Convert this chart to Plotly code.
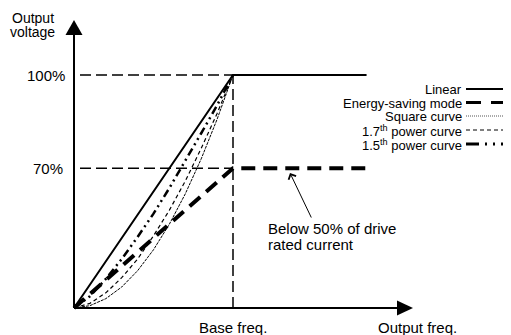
import plotly.graph_objects as go

# Values (x: 1.0 = base freq, y: 1.0 = 100% line)
freq = [0, 0.1, 0.2, 0.3, 0.4, 0.5, 0.6, 0.7, 0.8, 0.9, 1.0]
square_curve = [0, 0.01, 0.04, 0.09, 0.16, 0.25, 0.36, 0.49, 0.64, 0.81, 1.0]
power17_curve = [0, 0.02, 0.065, 0.13, 0.21, 0.31, 0.42, 0.545, 0.685, 0.835, 1.0]
power15_curve = [0, 0.05, 0.125, 0.21, 0.305, 0.405, 0.515, 0.63, 0.75, 0.87, 1.0]
linear_freq = [0, 1.0, 1.84]
linear_volt = [0, 1.0, 1.0]
energy_freq = [0, 0.25, 0.5, 0.75, 1.0, 1.84]
energy_volt = [0, 0.15, 0.3, 0.45, 0.6, 0.6]
level_y = [1.0, 0.6]
level_text = ["100%", "70%"]
base_freq = 1.0

legend_names = ["Linear", "Energy-saving mode", "Square curve",
                "1.7<sup>th</sup> power curve", "1.5<sup>th</sup> power curve"]

FONT = "Liberation Sans, Arial, sans-serif"
OFF = 8  # page body margin around the figure


# page pixel -> data helpers (axis origin sits at page pixel 74, 308)
def px_x(p):
    return (p - 74) / 159


def px_y(p):
    return (308 - p) / 233


styles = {
    "Linear": dict(color="black", width=2, dash="solid"),
    "Energy-saving mode": dict(color="black", width=4, dash="14px,8px"),
    "Square curve": dict(color="black", width=1, dash="3px,1px"),
    "1.7": dict(color="black", width=1.2, dash="4px,3px"),
    "1.5": dict(color="black", width=2.5, dash="8px,4px,2px,4px,2px,4px"),
}

fig = go.Figure()
fig.add_trace(go.Scatter(x=freq, y=square_curve, mode="lines", line=styles["Square curve"]))
fig.add_trace(go.Scatter(x=freq, y=power17_curve, mode="lines", line=styles["1.7"]))
fig.add_trace(go.Scatter(x=freq, y=power15_curve, mode="lines", line=styles["1.5"]))
fig.add_trace(go.Scatter(x=energy_freq, y=energy_volt, mode="lines",
                         line=styles["Energy-saving mode"]))
fig.add_trace(go.Scatter(x=linear_freq, y=linear_volt, mode="lines", line=styles["Linear"]))

shapes = []
# reference dashed lines
ref = dict(color="black", width=1.5, dash="11px,5px")
for ly in level_y:
    shapes.append(dict(type="line", x0=px_x(80), x1=base_freq, y0=ly, y1=ly,
                       line=ref, layer="below"))
shapes.append(dict(type="line", x0=base_freq, x1=base_freq, y0=0, y1=level_y[0],
                   line=ref, layer="below"))

# axes with arrow heads
ax_line = dict(color="black", width=2)
shapes.append(dict(type="line", x0=0, x1=px_x(400), y0=0, y1=0, line=ax_line))
shapes.append(dict(type="line", x0=0, x1=0, y0=0, y1=px_y(35), line=ax_line))
shapes.append(dict(type="path", xsizemode="pixel", ysizemode="pixel",
                   xanchor=px_x(413), yanchor=0,
                   path="M 0 0 L -16 7.5 L -16 -7.5 Z",
                   fillcolor="black", line=dict(width=0)))
shapes.append(dict(type="path", xsizemode="pixel", ysizemode="pixel",
                   xanchor=0, yanchor=px_y(20),
                   path="M 0 0 L -8.5 -15 L 8.5 -15 Z",
                   fillcolor="black", line=dict(width=0)))

# legend samples
legend_rows = [89, 102.5, 116, 130, 144]
legend_styles = [
    dict(color="black", width=2, dash="solid"),
    dict(color="black", width=3, dash="15px,10px"),
    dict(color="#555555", width=1, dash="1px,1px"),
    dict(color="black", width=1, dash="4px,3px"),
    dict(color="black", width=3, dash="13px,6px,2px,6px,2px,6px"),
]
annotations = []
for name, row, st in zip(legend_names, legend_rows, legend_styles):
    shapes.append(dict(type="line", x0=px_x(466), x1=px_x(508),
                       y0=px_y(row), y1=px_y(row), line=st))
    annotations.append(dict(x=px_x(463), y=px_y(row + 0.5), text=name, showarrow=False,
                            xanchor="right", yanchor="middle", borderpad=0,
                            font=dict(size=13, family=FONT, color="black")))

txt = dict(size=15, family=FONT, color="black")
small = dict(size=14, family=FONT, color="black")
for ly, lt, right in zip(level_y, level_text, [67, 65]):
    annotations.append(dict(x=px_x(right), y=ly, text=lt, showarrow=False,
                            xanchor="right", yanchor="middle", font=txt))
annotations.append(dict(x=px_x(32.5), y=px_y(18), text="Output", showarrow=False,
                        xanchor="center", yanchor="middle", borderpad=0, font=small))
annotations.append(dict(x=px_x(32.5), y=px_y(32), text="voltage", showarrow=False,
                        xanchor="center", yanchor="middle", borderpad=0, font=small))
annotations.append(dict(x=base_freq, y=px_y(327), text="Base freq.", showarrow=False,
                        xanchor="center", yanchor="middle", font=txt))
annotations.append(dict(x=px_x(417), y=px_y(327), text="Output freq.", showarrow=False,
                        xanchor="center", yanchor="middle", font=txt))
annotations.append(dict(x=px_x(267), y=px_y(228), text="Below 50% of drive",
                        showarrow=False, xanchor="left", yanchor="middle",
                        borderpad=0, font=txt))
annotations.append(dict(x=px_x(267), y=px_y(244), text="rated current",
                        showarrow=False, xanchor="left", yanchor="middle",
                        borderpad=0, font=txt))
annotations.append(dict(x=px_x(290), y=px_y(173), text="", showarrow=True,
                        ax=22, ay=46, arrowhead=4, arrowsize=1.6, arrowwidth=1,
                        arrowcolor="black", standoff=0))

fig.update_layout(
    width=511, height=335,
    margin=dict(l=0, r=0, t=0, b=0),
    plot_bgcolor="white", paper_bgcolor="white",
    showlegend=False,
    xaxis=dict(range=[px_x(OFF), px_x(511 + OFF)], visible=False, fixedrange=True),
    yaxis=dict(range=[px_y(335 + OFF), px_y(OFF)], visible=False, fixedrange=True),
    shapes=shapes,
    annotations=annotations,
)

fig.write_html("out.html")
